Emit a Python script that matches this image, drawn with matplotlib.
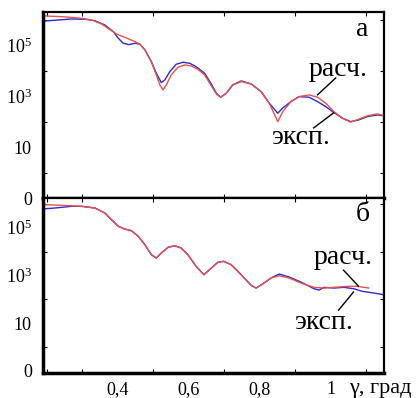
import matplotlib
matplotlib.use("Agg")
import matplotlib.pyplot as plt
from matplotlib.ticker import FixedLocator, NullFormatter
import numpy as np

plt.rcParams['font.family'] = ['Liberation Serif', 'DejaVu Serif']
plt.rcParams['mathtext.fontset'] = 'custom'
plt.rcParams['mathtext.rm'] = 'Liberation Serif'
plt.rcParams['mathtext.it'] = 'Liberation Serif:italic'

# panel а : angle (deg) and log10 intensity
a_calc_x = [0.196, 0.243, 0.290, 0.327, 0.355, 0.383, 0.397, 0.420, 0.449, 0.463,
            0.477, 0.495, 0.509, 0.519, 0.528, 0.537, 0.551, 0.570, 0.589, 0.607,
            0.626, 0.645, 0.664, 0.678, 0.690, 0.706, 0.724, 0.748, 0.776, 0.804,
            0.827, 0.851, 0.865, 0.888, 0.911, 0.939, 0.963, 0.986, 1.009, 1.033,
            1.056, 1.079, 1.103, 1.131, 1.15]
a_calc_lg = [6.143, 6.116, 6.065, 5.986, 5.829, 5.567, 5.437, 5.308, 5.135, 5.033,
             4.810, 4.351, 3.829, 3.437, 3.241, 3.437, 3.829, 4.131, 4.222, 4.182,
             4.053, 3.829, 3.400, 3.084, 2.955, 3.112, 3.437, 3.567, 3.476, 3.175,
             2.720, 1.998, 2.390, 2.782, 2.978, 3.045, 2.955, 2.720, 2.390, 2.131,
             1.975, 2.092, 2.222, 2.300, 2.233]
a_exp_x = [0.196, 0.234, 0.271, 0.308, 0.336, 0.364, 0.388, 0.402, 0.416, 0.432,
           0.449, 0.463, 0.477, 0.495, 0.509, 0.523, 0.533, 0.547, 0.565, 0.584,
           0.603, 0.621, 0.645, 0.664, 0.678, 0.690, 0.706, 0.724, 0.748, 0.776,
           0.804, 0.827, 0.851, 0.865, 0.888, 0.911, 0.939, 0.963, 0.986, 1.009,
           1.033, 1.056, 1.079, 1.103, 1.131, 1.15]
a_exp_lg = [5.947, 5.986, 6.025, 6.014, 5.959, 5.790, 5.527, 5.269, 5.073, 5.018,
            5.073, 5.033, 4.810, 4.351, 3.896, 3.527, 3.633, 3.959, 4.249, 4.327,
            4.288, 4.155, 3.896, 3.470, 3.112, 2.955, 3.112, 3.437, 3.594, 3.476,
            3.175, 2.720, 2.327, 2.535, 2.782, 2.978, 2.955, 2.782, 2.586, 2.351,
            2.131, 1.998, 2.065, 2.194, 2.261, 2.222]

# panel б
b_calc_x = [0.196, 0.243, 0.299, 0.336, 0.364, 0.383, 0.402, 0.420, 0.439, 0.458,
            0.477, 0.495, 0.509, 0.523, 0.542, 0.561, 0.579, 0.598, 0.621, 0.643,
            0.664, 0.682, 0.699, 0.720, 0.748, 0.776, 0.790, 0.808, 0.832, 0.855,
            0.883, 0.916, 0.953, 0.981, 1.009, 1.047, 1.075, 1.107]
b_calc_lg = [5.968, 5.943, 5.901, 5.830, 5.620, 5.338, 5.061, 4.947, 4.876, 4.641,
             4.288, 3.868, 3.729, 3.939, 4.179, 4.246, 4.149, 3.868, 3.380, 3.027,
             3.309, 3.548, 3.590, 3.447, 3.027, 2.582, 2.468, 2.637, 2.889, 2.985,
             2.889, 2.679, 2.498, 2.468, 2.498, 2.540, 2.540, 2.468]
b_exp_x = [0.196, 0.224, 0.271, 0.299, 0.336, 0.364, 0.383, 0.402, 0.420, 0.439,
           0.458, 0.477, 0.495, 0.509, 0.523, 0.542, 0.561, 0.579, 0.598, 0.621,
           0.643, 0.664, 0.682, 0.699, 0.720, 0.748, 0.776, 0.790, 0.808, 0.832,
           0.855, 0.883, 0.916, 0.953, 0.967, 0.981, 1.009, 1.037, 1.065, 1.089,
           1.122, 1.15]
b_exp_lg = [5.800, 5.830, 5.901, 5.901, 5.830, 5.620, 5.338, 5.061, 4.947, 4.876,
            4.641, 4.288, 3.868, 3.729, 3.939, 4.179, 4.246, 4.149, 3.868, 3.380,
            3.027, 3.309, 3.548, 3.590, 3.447, 3.027, 2.582, 2.468, 2.637, 2.889,
            3.056, 2.931, 2.721, 2.439, 2.384, 2.498, 2.468, 2.498, 2.439, 2.330,
            2.258, 2.187]

ytick_vals = [0.1, 10, 1e3, 1e5]
ytick_labels = ['0', '10', '$10^3$', '$10^5$']
xtick_vals = [0.4, 0.6, 0.8, 1.0]
xtick_labels = ['0,4', '0,6', '0,8', '1']

red = '#e8504a'
blue = '#2a2ad0'

fig = plt.figure(figsize=(4.2, 3.98), dpi=100)
ax1 = fig.add_axes([0.1024, 0.5025, 0.8119, 0.4674])
ax2 = fig.add_axes([0.1024, 0.0628, 0.8119, 0.4397])

panels = [
    (ax1, a_calc_x, a_calc_lg, a_exp_x, a_exp_lg, (-1.0, 6.3), 'а'),
    (ax2, b_calc_x, b_calc_lg, b_exp_x, b_exp_lg, (-1.1, 6.25), 'б'),
]
for ax, cx, cy, ex, ey, ylim, letter in panels:
    ax.plot(ex, 10 ** np.array(ey), color=blue, lw=1.0)
    ax.plot(cx, 10 ** np.array(cy), color=red, lw=1.0)
    ax.set_yscale('log')
    ax.set_xlim(0.19, 1.15)
    ax.set_ylim(10 ** ylim[0], 10 ** ylim[1])
    ax.yaxis.set_major_locator(FixedLocator(ytick_vals))
    ax.set_yticklabels(ytick_labels, fontsize=13)
    ax.yaxis.set_minor_locator(FixedLocator([1, 100, 1e4, 1e6]))
    ax.yaxis.set_minor_formatter(NullFormatter())
    ax.xaxis.set_minor_locator(FixedLocator(np.arange(0.2, 1.15, 0.1)))
    ax.tick_params(which='both', direction='in', top=True, right=True,
                   length=3, width=0.8)
    ax.tick_params(axis='y', which='major', length=0, pad=8)
    ax.tick_params(axis='x', which='major', length=0)
    for side in ['left', 'bottom']:
        ax.spines[side].set_linewidth(2.5)
    for side in ['top', 'right']:
        ax.spines[side].set_linewidth(1.6)
    ax.text(0.937, 0.905, letter, transform=ax.transAxes, ha='center',
            va='center', fontsize=20)

ax1.set_xticks(xtick_vals)
ax1.set_xticklabels([])
ax2.set_xticks(xtick_vals)
ax2.set_xticklabels(xtick_labels, fontsize=13)
ax2.tick_params(axis='x', which='major', pad=5.5)

# labels with leader lines
ax1.text(1.020, 10 ** 4.03, 'расч.', ha='center', va='center', fontsize=20)
ax1.plot([1.014, 0.963], [10 ** 3.71, 10 ** 3.05], color='black', lw=1.0)
ax1.text(0.916, 10 ** 1.36, 'эксп.', ha='center', va='center', fontsize=20)
ax1.plot([0.952, 1.008], [10 ** 1.75, 10 ** 2.34], color='black', lw=1.0)

ax2.text(1.036, 10 ** 3.77, 'расч.', ha='center', va='center', fontsize=20)
ax2.plot([1.036, 1.078], [10 ** 3.22, 10 ** 2.55], color='black', lw=1.0)
ax2.text(0.980, 10 ** 1.04, 'эксп.', ha='center', va='center', fontsize=20)
ax2.plot([1.022, 1.064], [10 ** 1.54, 10 ** 2.30], color='black', lw=1.0)

fig.text(349 / 420, 1 - 388 / 398, 'γ, град', ha='left', va='center',
         fontsize=16)

fig.savefig('out.png', dpi=100)
